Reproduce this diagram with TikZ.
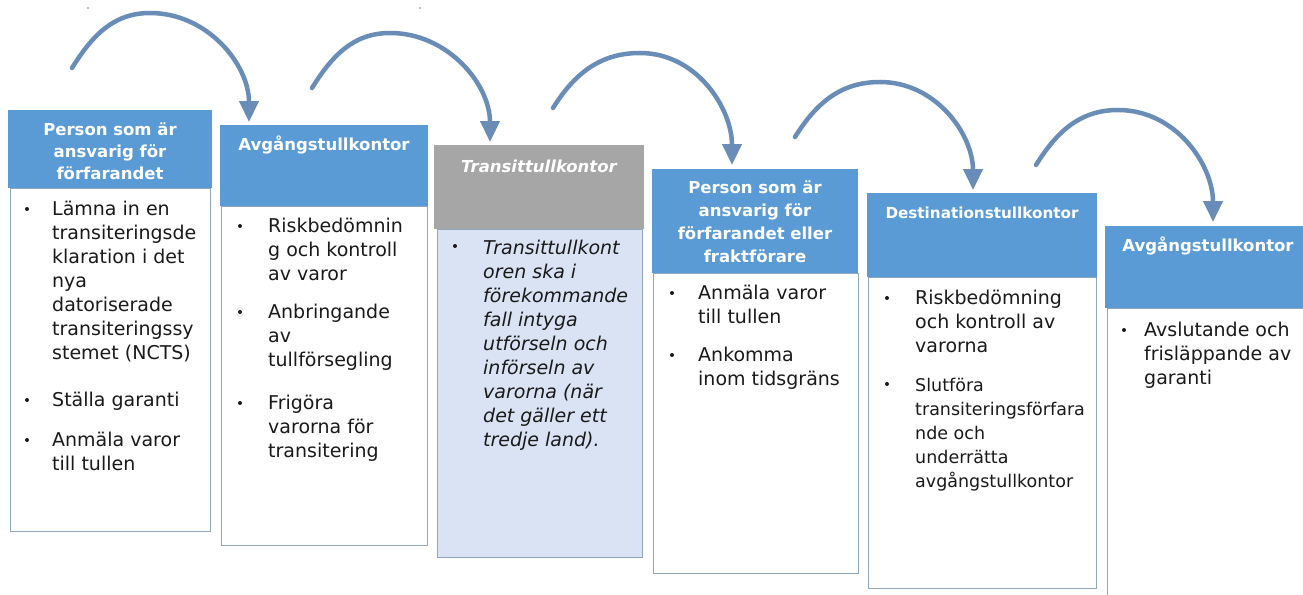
\documentclass[tikz,border=0pt]{standalone}
\usepackage{fontspec}
\setmainfont{DejaVu Sans}
\usetikzlibrary{arrows.meta}
\definecolor{hblue}{HTML}{5B9BD5}
\definecolor{hgray}{HTML}{A6A6A6}
\definecolor{tfill}{HTML}{DAE3F3}
\definecolor{bline}{HTML}{8FA6BD}
\definecolor{arr}{HTML}{6A8DB8}
\definecolor{txt}{HTML}{1A1A1A}
\begin{document}
\begin{tikzpicture}[x=1pt,y=1pt,
  hdr/.style={draw=none, fill=hblue, rectangle, inner sep=0pt, anchor=north west},
  bodybox/.style={draw=bline, line width=1.2pt, fill=white, rectangle, inner sep=0pt, anchor=north west},
  htext/.style={anchor=base, inner sep=0pt, text=white, font=\fontsize{16.5}{22}\selectfont\bfseries},
  item/.style={anchor=base west, inner sep=0pt, text=txt, font=\fontsize{19}{24}\selectfont},
  flow/.style={draw=arr, line width=4.5pt, line cap=round, -{Triangle[length=21pt,width=19pt]}},
  dot/.style={fill=txt, circle, inner sep=0pt, minimum size=4pt}
]
\useasboundingbox (0,0) rectangle (1303,-594);
\clip (0,0) rectangle (1303,-594);
\fill[white] (0,0) rectangle (1303,-594);

% tiny marks at top
\fill[gray] (88,-8) circle (0.9);
\fill[gray] (420,-8) circle (0.9);

% ---------- bodies ----------
\node[bodybox, minimum width=200pt, minimum height=343pt] (b1) at (10,-188) {};
\node[bodybox, minimum width=206pt, minimum height=339pt] (b2) at (221,-206) {};
\node[bodybox, fill=tfill, minimum width=205pt, minimum height=328pt] (b3) at (437,-229) {};
\node[bodybox, minimum width=205pt, minimum height=300pt] (b4) at (653,-273) {};
\node[bodybox, minimum width=228pt, minimum height=311pt] (b5) at (868,-277) {};
\node[bodybox, minimum width=204pt, minimum height=300pt] (b6) at (1107,-308) {};

% ---------- headers ----------
\node[hdr, minimum width=204pt, minimum height=78pt] (h1) at (8,-110) {};
\node[hdr, minimum width=208pt, minimum height=81pt] (h2) at (220,-125) {};
\node[hdr, fill=hgray, minimum width=210pt, minimum height=84pt] (h3) at (434,-145) {};
\node[hdr, minimum width=206pt, minimum height=104pt] (h4) at (652,-169) {};
\node[hdr, minimum width=230pt, minimum height=84pt] (h5) at (867,-193) {};
\node[hdr, minimum width=206pt, minimum height=82pt] (h6) at (1105,-226) {};

\node[htext] (ht1) at (110,-135) {\begin{tabular}[t]{@{}c@{}}Person som är\\ansvarig för\\förfarandet\end{tabular}};
\node[htext] (ht2) at (324,-150) {Avgångstullkontor};
\node[htext, font=\fontsize{16.5}{22}\selectfont\bfseries\itshape] (ht3) at (539,-172) {Transittullkontor};
\node[htext, font=\fontsize{16.5}{23}\selectfont\bfseries] (ht4) at (755,-193) {\begin{tabular}[t]{@{}c@{}}Person som är\\ansvarig för\\förfarandet eller\\fraktförare\end{tabular}};
\node[htext, font=\fontsize{15.2}{22}\selectfont\bfseries] (ht5) at (982,-218) {Destinationstullkontor};
\node[htext] (ht6) at (1208,-251) {Avgångstullkontor};

% ---------- column 1 ----------
\node[dot] (d1a) at (27,-209) {};
\node[item] (t1a) at (52,-215) {\begin{tabular}[t]{@{}l@{}}Lämna in en\\transiteringsde\\klaration i det\\nya\\datoriserade\\transiteringssy\\stemet (NCTS)\end{tabular}};
\node[dot] (d1b) at (27,-400) {};
\node[item] (t1b) at (52,-406) {Ställa garanti};
\node[dot] (d1c) at (27,-440) {};
\node[item] (t1c) at (52,-446) {\begin{tabular}[t]{@{}l@{}}Anmäla varor\\till tullen\end{tabular}};

% ---------- column 2 ----------
\node[dot] (d2a) at (240,-226) {};
\node[item] (t2a) at (268,-232) {\begin{tabular}[t]{@{}l@{}}Riskbedömnin\\g och kontroll\\av varor\end{tabular}};
\node[dot] (d2b) at (240,-312) {};
\node[item] (t2b) at (268,-318) {\begin{tabular}[t]{@{}l@{}}Anbringande\\av\\tullförsegling\end{tabular}};
\node[dot] (d2c) at (240,-403) {};
\node[item] (t2c) at (268,-409) {\begin{tabular}[t]{@{}l@{}}Frigöra\\varorna för\\transitering\end{tabular}};

% ---------- column 3 ----------
\node[dot] (d3a) at (455,-246) {};
\node[item, font=\fontsize{19}{24}\selectfont\itshape] (t3a) at (483,-254) {\begin{tabular}[t]{@{}l@{}}Transittullkont\\oren ska i\\förekommande\\fall intyga\\utförseln och\\införseln av\\varorna (när\\det gäller ett\\tredje land).\end{tabular}};

% ---------- column 4 ----------
\node[dot] (d4a) at (672,-293) {};
\node[item] (t4a) at (698,-299) {\begin{tabular}[t]{@{}l@{}}Anmäla varor\\till tullen\end{tabular}};
\node[dot] (d4b) at (672,-355) {};
\node[item] (t4b) at (698,-361) {\begin{tabular}[t]{@{}l@{}}Ankomma\\inom tidsgräns\end{tabular}};

% ---------- column 5 ----------
\node[dot] (d5a) at (887,-298) {};
\node[item] (t5a) at (915,-304) {\begin{tabular}[t]{@{}l@{}}Riskbedömning\\och kontroll av\\varorna\end{tabular}};
\node[dot] (d5b) at (887,-384) {};
\node[item, font=\fontsize{17.5}{24}\selectfont] (t5b) at (915,-391) {\begin{tabular}[t]{@{}l@{}}Slutföra\\transiteringsförfara\\nde och\\underrätta\\avgångstullkontor\end{tabular}};

% ---------- column 6 ----------
\node[dot] (d6a) at (1124,-330) {};
\node[item] (t6a) at (1144,-336) {\begin{tabular}[t]{@{}l@{}}Avslutande och\\frisläppande av\\garanti\end{tabular}};

% ---------- arrows ----------
\coordinate (a1s) at (72,-68);   \coordinate (a1p) at (150,-13);  \coordinate (a1e) at (249,-122);
\coordinate (a2s) at (312,-88);  \coordinate (a2p) at (390,-33);  \coordinate (a2e) at (490,-142);
\coordinate (a3s) at (553,-108); \coordinate (a3p) at (640,-53);  \coordinate (a3e) at (732,-165);
\coordinate (a4s) at (795,-137); \coordinate (a4p) at (880,-82);  \coordinate (a4e) at (973,-190);
\coordinate (a5s) at (1036,-165);\coordinate (a5p) at (1118,-110);\coordinate (a5e) at (1213,-222);
\foreach \i in {1,...,5}{
  \draw[flow] (a\i s) to[out=58,in=180] (a\i p) to[out=0,in=90] (a\i e);
}
\end{tikzpicture}
\end{document}
